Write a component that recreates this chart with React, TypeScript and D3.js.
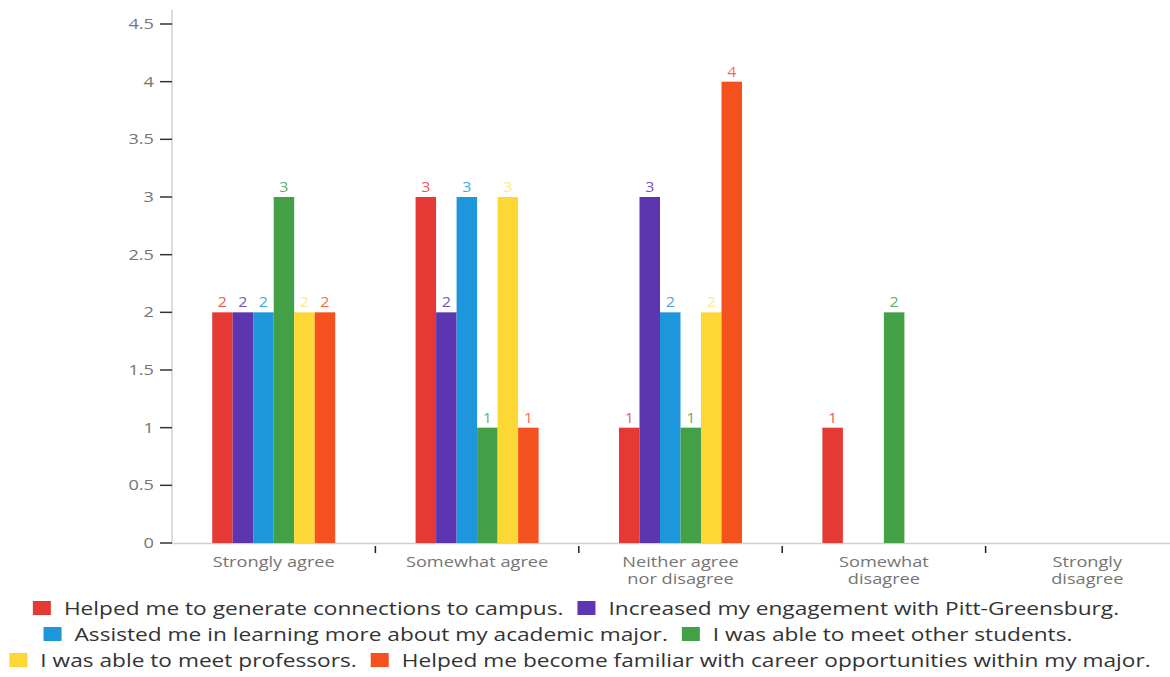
import { useEffect, useRef } from 'react';
import * as d3 from 'd3';

const categories = ['Strongly agree', 'Somewhat agree', 'Neither agree nor disagree', 'Somewhat disagree', 'Strongly disagree'];
const categoryLines = [['Strongly agree'], ['Somewhat agree'], ['Neither agree', 'nor disagree'], ['Somewhat', 'disagree'], ['Strongly', 'disagree']];

const seriesNames = [
  'Helped me to generate connections to campus.',
  'Increased my engagement with Pitt-Greensburg.',
  'Assisted me in learning more about my academic major.',
  'I was able to meet other students.',
  'I was able to meet professors.',
  'Helped me become familiar with career opportunities within my major.',
];
const seriesColors = ['#e53935', '#5e35b1', '#1e96dc', '#43a047', '#fdd835', '#f4511e'];

const connections = [2, 3, 1, 1, 0];
const engagement = [2, 2, 3, 0, 0];
const academicMajor = [2, 3, 2, 0, 0];
const otherStudents = [3, 1, 1, 2, 0];
const professors = [2, 3, 2, 0, 0];
const careers = [2, 1, 4, 0, 0];
const seriesValues = [connections, engagement, academicMajor, otherStudents, professors, careers];

const yTicks = [0, 0.5, 1, 1.5, 2, 2.5, 3, 3.5, 4, 4.5];
const legendRows = [[0, 1], [2, 3], [4, 5]];
const legendRowCenters = [576, 558, 580];

const W = 1170;
const H = 677;

export default function App() {
  const svgRef = useRef<SVGSVGElement>(null);

  useEffect(() => {
    if (!svgRef.current) return;
    const svg = d3.select(svgRef.current);
    svg.selectAll('*').remove();

    const left = 172;
    const bottom = 543;
    const font = "'Open Sans', sans-serif";
    // the reference is stretched sideways, so text is widened to match
    const axisSx = 1.3;
    const legendSx = 1.26;

    const y = d3.scaleLinear().domain([0, 4.5]).range([bottom, 24]);
    const x0 = d3.scaleBand<string>().domain(categories).range([left, 1189]).padding(0);
    const x1 = d3.scaleBand<number>()
      .domain(d3.range(seriesNames.length))
      .range([0, x0.bandwidth()])
      .paddingInner(0)
      .paddingOuter(1.96);

    // y axis
    svg.append('line')
      .attr('x1', left).attr('x2', left)
      .attr('y1', 10).attr('y2', bottom)
      .attr('stroke', '#d0d0d0').attr('stroke-width', 1.5);

    const yg = svg.append('g');
    yg.selectAll('line')
      .data(yTicks)
      .enter().append('line')
      .attr('x1', left - 12).attr('x2', left)
      .attr('y1', d => y(d)).attr('y2', d => y(d))
      .attr('stroke', '#333').attr('stroke-width', 1.5);
    yg.selectAll('text')
      .data(yTicks)
      .enter().append('text')
      .attr('transform', d => `translate(${left - 18},${y(d)}) scale(${axisSx},1)`)
      .attr('dy', '0.35em')
      .attr('text-anchor', 'end')
      .attr('font-family', font)
      .attr('font-size', 14)
      .attr('fill', '#757575')
      .text(d => String(d));

    // x axis
    svg.append('line')
      .attr('x1', left).attr('x2', W)
      .attr('y1', bottom + 0.5).attr('y2', bottom + 0.5)
      .attr('stroke', '#d0d0d0').attr('stroke-width', 1.5);

    svg.append('g').selectAll('line')
      .data(categories.slice(1))
      .enter().append('line')
      .attr('x1', d => x0(d) || 0).attr('x2', d => x0(d) || 0)
      .attr('y1', bottom + 3).attr('y2', bottom + 10)
      .attr('stroke', '#222').attr('stroke-width', 1.5);

    const xl = svg.append('g');
    categories.forEach((c, i) => {
      const cx = (x0(c) || 0) + x0.bandwidth() / 2;
      categoryLines[i].forEach((ln, j) => {
        xl.append('text')
          .attr('transform', `translate(${cx},${567 + j * 17}) scale(${axisSx},1)`)
          .attr('text-anchor', 'middle')
          .attr('font-family', font)
          .attr('font-size', 14)
          .attr('fill', '#757575')
          .text(ln);
      });
    });

    // bars
    const barData = categories.flatMap((c, ci) =>
      seriesValues.map((vals, si) => ({ c, si, v: vals[ci] }))
    ).filter(d => d.v > 0);

    svg.append('g').selectAll('rect')
      .data(barData)
      .enter().append('rect')
      .attr('x', d => (x0(d.c) || 0) + (x1(d.si) || 0))
      .attr('width', x1.bandwidth())
      .attr('y', d => y(d.v))
      .attr('height', d => bottom - y(d.v))
      .attr('fill', d => seriesColors[d.si]);

    // value labels with white backing
    const labels = svg.append('g');
    barData.forEach(d => {
      const cx = (x0(d.c) || 0) + (x1(d.si) || 0) + x1.bandwidth() / 2;
      const top = y(d.v);
      labels.append('rect')
        .attr('x', cx - 7).attr('y', top - 20)
        .attr('width', 14).attr('height', 19)
        .attr('fill', '#fff');
      labels.append('text')
        .attr('transform', `translate(${cx},${top - 5}) scale(1.15,1)`)
        .attr('text-anchor', 'middle')
        .attr('font-family', font)
        .attr('font-size', 14)
        .attr('fill', seriesColors[d.si])
        .attr('fill-opacity', d.si === 4 ? 0.6 : 0.85)
        .text(String(d.v));
    });

    // legend
    const legend = svg.append('g');
    const swW = 18;
    const swH = 14;
    const gapText = 13;
    const gapItem = 14;
    legendRows.forEach((row, ri) => {
      const rowG = legend.append('g');
      let cursor = 0;
      row.forEach(si => {
        rowG.append('rect')
          .attr('x', cursor).attr('y', -swH / 2 - 1)
          .attr('width', swW).attr('height', swH)
          .attr('fill', seriesColors[si]);
        const tx = cursor + swW + gapText;
        const t = rowG.append('text')
          .attr('transform', `translate(${tx},0) scale(${legendSx},1)`)
          .attr('dy', '0.35em')
          .attr('font-family', font)
          .attr('font-size', 18)
          .attr('fill', '#333')
          .text(seriesNames[si]);
        const tw = (t.node() as SVGTextElement).getComputedTextLength() * legendSx;
        cursor = tx + tw + gapItem;
      });
      const rowWidth = cursor - gapItem;
      rowG.attr('transform', `translate(${legendRowCenters[ri] - rowWidth / 2},${609 + ri * 26})`);
    });
  }, []);

  return (
    <svg
      ref={svgRef}
      width={W}
      height={H}
      style={{ position: 'absolute', left: 0, top: 0, background: '#fff', display: 'block' }}
    />
  );
}
